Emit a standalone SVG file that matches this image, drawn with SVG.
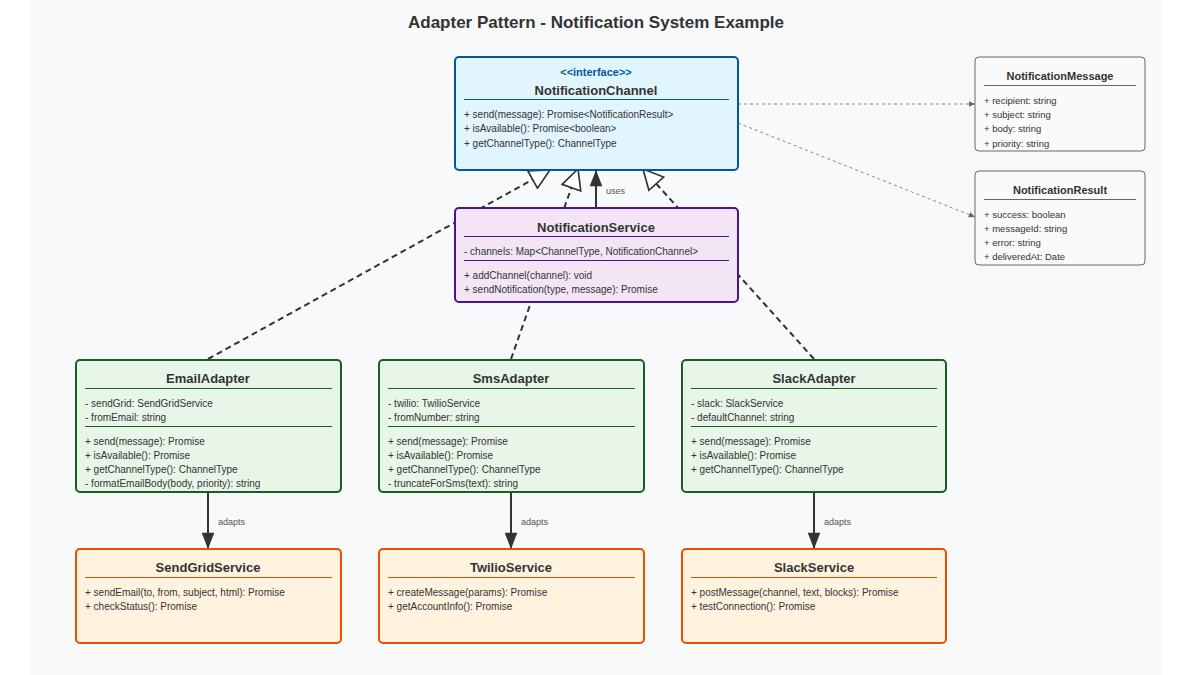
<svg xmlns="http://www.w3.org/2000/svg" width="1200" height="675" viewBox="0 0 1200 675">
<defs>
<style>
text{font-family:"Liberation Sans",Arial,sans-serif;fill:#333}
.t{font-size:13px;font-weight:bold;text-anchor:middle}
.m{font-size:10px}
.s{font-size:9.5px}
.sep{stroke-width:1}
</style>
<marker id="tri" viewBox="0 0 20 20" refX="19" refY="10" markerWidth="22" markerHeight="22" markerUnits="userSpaceOnUse" orient="auto"><path d="M1,1 L19,10 L1,19 Z" fill="#fff" stroke="#333" stroke-width="1.5"/></marker>
<marker id="fill" viewBox="0 0 20 20" refX="19" refY="10" markerWidth="18" markerHeight="18" markerUnits="userSpaceOnUse" orient="auto"><path d="M1,3 L19,10 L1,17 Z" fill="#333"/></marker>
<marker id="sm" viewBox="0 0 10 10" refX="9" refY="5" markerWidth="7" markerHeight="7" markerUnits="userSpaceOnUse" orient="auto"><path d="M0,1 L9,5 L0,9 Z" fill="#666"/></marker>
</defs>
<rect width="1200" height="675" fill="#fff"/>
<rect x="30" y="0" width="1133" height="675" fill="#f8f9fa"/>
<text x="596" y="28" style="font-size:17px;font-weight:bold;text-anchor:middle">Adapter Pattern - Notification System Example</text>
<g id="connectors" fill="none">
<path d="M208,359 L550,170" stroke="#333" stroke-width="2" stroke-dasharray="6,4" marker-end="url(#tri)"/>
<path d="M511,359 L578,169" stroke="#333" stroke-width="2" stroke-dasharray="6,4" marker-end="url(#tri)"/>
<path d="M814,359 L643,169" stroke="#333" stroke-width="2" stroke-dasharray="6,4" marker-end="url(#tri)"/>
<path d="M596,208 L596,170" stroke="#333" stroke-width="2" marker-end="url(#fill)"/>
<text x="606" y="194" class="s" style="font-size:9px;fill:#555">uses</text>
<path d="M738,104 L975,104" stroke="#888" stroke-width="1" stroke-dasharray="3,3" marker-end="url(#sm)"/>
<path d="M738,123 L975,217" stroke="#888" stroke-width="1" stroke-dasharray="3,3" marker-end="url(#sm)"/>
<path d="M208,492 L208,549" stroke="#333" stroke-width="2" marker-end="url(#fill)"/>
<path d="M511,492 L511,549" stroke="#333" stroke-width="2" marker-end="url(#fill)"/>
<path d="M814,492 L814,549" stroke="#333" stroke-width="2" marker-end="url(#fill)"/>
<text x="218" y="525" style="font-size:9px;fill:#555">adapts</text>
<text x="521" y="525" style="font-size:9px;fill:#555">adapts</text>
<text x="824" y="525" style="font-size:9px;fill:#555">adapts</text>
</g>
<g id="NotificationChannel">
<rect x="455" y="57" width="283" height="113" rx="4" fill="#e1f5fe" stroke="#01579b" stroke-width="2"/>
<text x="596" y="76" style="font-size:11px;font-weight:bold;text-anchor:middle;fill:#01579b">&lt;&lt;interface&gt;&gt;</text>
<text x="596" y="95" class="t">NotificationChannel</text>
<line x1="464" y1="99.500" x2="729" y2="99.500" stroke="#01579b"/>
<text x="464" y="118" class="m">+ send(message): Promise&lt;NotificationResult&gt;</text>
<text x="464" y="132" class="m">+ isAvailable(): Promise&lt;boolean&gt;</text>
<text x="464" y="147" class="m">+ getChannelType(): ChannelType</text>
</g>
<g id="NotificationService">
<rect x="455" y="208" width="283" height="94" rx="4" fill="#f3e5f5" stroke="#4a148c" stroke-width="2"/>
<text x="596" y="232" class="t">NotificationService</text>
<line x1="464" y1="236.500" x2="729" y2="236.500" stroke="#4a148c"/>
<text x="464" y="255" class="m">- channels: Map&lt;ChannelType, NotificationChannel&gt;</text>
<line x1="464" y1="260.500" x2="729" y2="260.500" stroke="#4a148c"/>
<text x="464" y="279" class="m">+ addChannel(channel): void</text>
<text x="464" y="293" class="m">+ sendNotification(type, message): Promise</text>
</g>
<g id="NotificationMessage">
<rect x="975" y="57" width="170" height="94" rx="4" fill="#fafafa" stroke="#666" stroke-width="1"/>
<text x="1060" y="80" class="t" style="font-size:11px">NotificationMessage</text>
<line x1="984" y1="85.500" x2="1136" y2="85.500" stroke="#666"/>
<text x="984" y="104" class="s">+ recipient: string</text>
<text x="984" y="118" class="s">+ subject: string</text>
<text x="984" y="132" class="s">+ body: string</text>
<text x="984" y="147" class="s">+ priority: string</text>
</g>
<g id="NotificationResult">
<rect x="975" y="171" width="170" height="94" rx="4" fill="#fafafa" stroke="#666" stroke-width="1"/>
<text x="1060" y="194" class="t" style="font-size:11px">NotificationResult</text>
<line x1="984" y1="199.500" x2="1136" y2="199.500" stroke="#666"/>
<text x="984" y="218" class="s">+ success: boolean</text>
<text x="984" y="232" class="s">+ messageId: string</text>
<text x="984" y="246" class="s">+ error: string</text>
<text x="984" y="260" class="s">+ deliveredAt: Date</text>
</g>
<g id="EmailAdapter">
<rect x="76" y="360" width="265" height="132" rx="4" fill="#e8f5e9" stroke="#1b5e20" stroke-width="2"/>
<text x="208" y="383" class="t">EmailAdapter</text>
<line x1="85" y1="388.500" x2="332" y2="388.500" stroke="#1b5e20"/>
<text x="85" y="407" class="m">- sendGrid: SendGridService</text>
<text x="85" y="421" class="m">- fromEmail: string</text>
<line x1="85" y1="426.500" x2="332" y2="426.500" stroke="#1b5e20"/>
<text x="85" y="445" class="m">+ send(message): Promise</text>
<text x="85" y="459" class="m">+ isAvailable(): Promise</text>
<text x="85" y="473" class="m">+ getChannelType(): ChannelType</text>
<text x="85" y="487" class="m">- formatEmailBody(body, priority): string</text>
</g>
<g id="SmsAdapter">
<rect x="379" y="360" width="265" height="132" rx="4" fill="#e8f5e9" stroke="#1b5e20" stroke-width="2"/>
<text x="511" y="383" class="t">SmsAdapter</text>
<line x1="388" y1="388.500" x2="635" y2="388.500" stroke="#1b5e20"/>
<text x="388" y="407" class="m">- twilio: TwilioService</text>
<text x="388" y="421" class="m">- fromNumber: string</text>
<line x1="388" y1="426.500" x2="635" y2="426.500" stroke="#1b5e20"/>
<text x="388" y="445" class="m">+ send(message): Promise</text>
<text x="388" y="459" class="m">+ isAvailable(): Promise</text>
<text x="388" y="473" class="m">+ getChannelType(): ChannelType</text>
<text x="388" y="487" class="m">- truncateForSms(text): string</text>
</g>
<g id="SlackAdapter">
<rect x="682" y="360" width="264" height="132" rx="4" fill="#e8f5e9" stroke="#1b5e20" stroke-width="2"/>
<text x="814" y="383" class="t">SlackAdapter</text>
<line x1="691" y1="388.500" x2="937" y2="388.500" stroke="#1b5e20"/>
<text x="691" y="407" class="m">- slack: SlackService</text>
<text x="691" y="421" class="m">- defaultChannel: string</text>
<line x1="691" y1="426.500" x2="937" y2="426.500" stroke="#1b5e20"/>
<text x="691" y="445" class="m">+ send(message): Promise</text>
<text x="691" y="459" class="m">+ isAvailable(): Promise</text>
<text x="691" y="473" class="m">+ getChannelType(): ChannelType</text>
</g>
<g id="SendGridService">
<rect x="76" y="549" width="265" height="94" rx="4" fill="#fff3e0" stroke="#e65100" stroke-width="2"/>
<text x="208" y="572" class="t">SendGridService</text>
<line x1="85" y1="577.500" x2="332" y2="577.500" stroke="#e65100"/>
<text x="85" y="596" class="m">+ sendEmail(to, from, subject, html): Promise</text>
<text x="85" y="610" class="m">+ checkStatus(): Promise</text>
</g>
<g id="TwilioService">
<rect x="379" y="549" width="265" height="94" rx="4" fill="#fff3e0" stroke="#e65100" stroke-width="2"/>
<text x="511" y="572" class="t">TwilioService</text>
<line x1="388" y1="577.500" x2="635" y2="577.500" stroke="#e65100"/>
<text x="388" y="596" class="m">+ createMessage(params): Promise</text>
<text x="388" y="610" class="m">+ getAccountInfo(): Promise</text>
</g>
<g id="SlackService">
<rect x="682" y="549" width="264" height="94" rx="4" fill="#fff3e0" stroke="#e65100" stroke-width="2"/>
<text x="814" y="572" class="t">SlackService</text>
<line x1="691" y1="577.500" x2="937" y2="577.500" stroke="#e65100"/>
<text x="691" y="596" class="m">+ postMessage(channel, text, blocks): Promise</text>
<text x="691" y="610" class="m">+ testConnection(): Promise</text>
</g>
</svg>
